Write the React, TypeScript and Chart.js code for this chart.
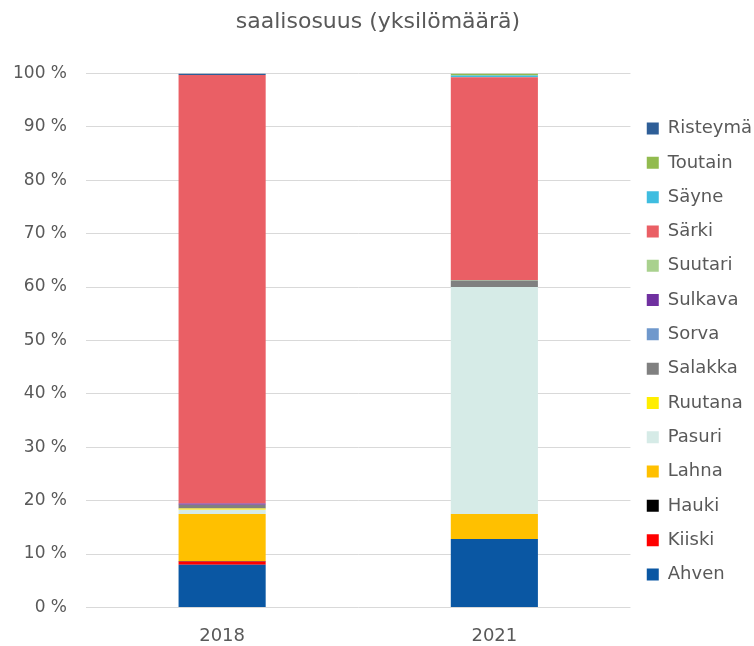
import React, { useEffect, useRef } from "react";
import { Chart, registerables } from "chart.js";

Chart.register(...registerables);

const categories = ["2018", "2021"];

// Osuudet prosentteina (yksilömäärä)
const ahven = [8.0, 12.8];
const kiiski = [0.6, 0];
const hauki = [0.1, 0];
const lahna = [8.8, 4.7];
const pasuri = [0.8, 42.5];
const ruutana = [0.2, 0];
const salakka = [0.7, 1.2];
const sorva = [0, 0];
const sulkava = [0.25, 0];
const suutari = [0, 0.1];
const sarki = [80.25, 38.0];
const sayne = [0, 0.3];
const toutain = [0, 0.4];
const risteyma = [0.3, 0];

const yTicks = [0, 10, 20, 30, 40, 50, 60, 70, 80, 90, 100];

const series = [
  { label: "Ahven", data: ahven, color: "#0a57a3" },
  { label: "Kiiski", data: kiiski, color: "#ff0000" },
  { label: "Hauki", data: hauki, color: "#000000" },
  { label: "Lahna", data: lahna, color: "#ffc000" },
  { label: "Pasuri", data: pasuri, color: "#d6ebe7" },
  { label: "Ruutana", data: ruutana, color: "#ffee00" },
  { label: "Salakka", data: salakka, color: "#808080" },
  { label: "Sorva", data: sorva, color: "#6f98cc" },
  { label: "Sulkava", data: sulkava, color: "#7030a0" },
  { label: "Suutari", data: suutari, color: "#a9d18e" },
  { label: "Särki", data: sarki, color: "#ea5f65" },
  { label: "Säyne", data: sayne, color: "#3fbde0" },
  { label: "Toutain", data: toutain, color: "#92bb4f" },
  { label: "Risteymä", data: risteyma, color: "#2e5e97" },
];

const TEXT = "#595959";
const FONT = "'DejaVu Sans', sans-serif";

// Moves the legend block vertically after layout
const legendShift = {
  id: "legendShift",
  afterLayout(chart: any) {
    const lg = chart.legend;
    if (!lg) return;
    const dy = 20;
    lg.top += dy;
    lg.bottom += dy;
  },
};

export default function App() {
  const ref = useRef<HTMLCanvasElement>(null);

  useEffect(() => {
    if (!ref.current) return;
    const chart = new Chart(ref.current, {
      type: "bar",
      data: {
        labels: categories,
        datasets: series.map((s) => ({
          label: s.label,
          data: s.data,
          backgroundColor: s.color,
          borderWidth: 0,
          barPercentage: 0.32,
          categoryPercentage: 1,
        })),
      },
      plugins: [legendShift],
      options: {
        animation: false,
        responsive: true,
        maintainAspectRatio: false,
        layout: { padding: { left: -6, right: -8, top: 6, bottom: -11 } },
        plugins: {
          title: {
            display: true,
            text: "saalisosuus (yksilömäärä)",
            color: TEXT,
            font: { family: FONT, size: 22, weight: "normal" },
            padding: { top: 3, bottom: 38 },
          },
          legend: {
            position: "right",
            reverse: true,
            labels: {
              color: TEXT,
              font: { family: FONT, size: 18 },
              boxWidth: 12,
              boxHeight: 12,
              padding: 16.3,
            },
          },
          tooltip: { enabled: false },
        },
        scales: {
          x: {
            stacked: true,
            grid: { display: false },
            border: { display: false },
            ticks: { color: TEXT, font: { family: FONT, size: 18 }, padding: 10 },
          },
          y: {
            stacked: true,
            min: 0,
            max: 100,
            afterBuildTicks: (axis: any) => {
              axis.ticks = yTicks.map((v) => ({ value: v }));
            },
            grid: { color: "#d9d9d9", lineWidth: 1, drawTicks: false },
            border: { display: false },
            ticks: {
              color: TEXT,
              font: { family: FONT, size: 17 },
              padding: 19,
              callback: (v: any) => `${v} %`,
            },
          },
        },
      },
    });
    return () => chart.destroy();
  }, []);

  return (
    <div style={{ position: "fixed", left: 0, top: 0, width: 754, height: 646, background: "#fff" }}>
      <canvas ref={ref} />
    </div>
  );
}
